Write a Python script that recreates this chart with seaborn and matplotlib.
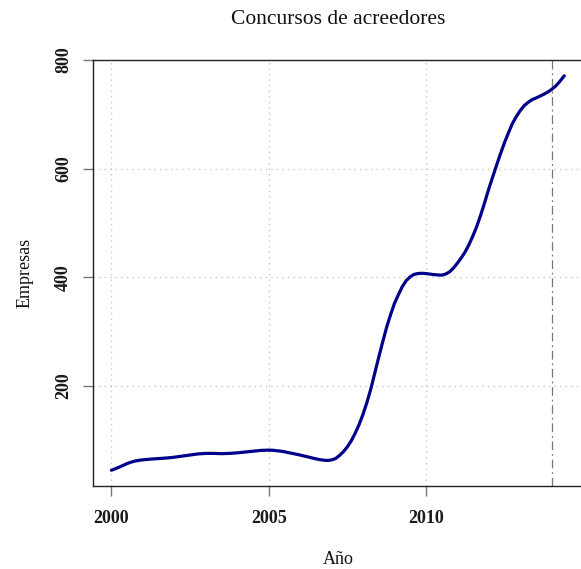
import matplotlib
matplotlib.use("Agg")
import matplotlib.pyplot as plt
import seaborn as sns
import pandas as pd

# Insolvency proceedings per year (smoothed series, read at regular steps)
anios = [
    2000.000, 2000.125, 2000.250, 2000.375, 2000.500, 2000.625, 2000.750, 2000.875,
    2001.000, 2001.250, 2001.500, 2001.750,
    2002.000, 2002.250, 2002.500, 2002.750, 2003.000, 2003.250, 2003.500, 2003.750,
    2004.000, 2004.250, 2004.500, 2004.750, 2005.000, 2005.125, 2005.250, 2005.375,
    2005.500, 2005.625, 2005.750, 2005.875, 2006.000, 2006.125, 2006.250, 2006.375,
    2006.500, 2006.625, 2006.750, 2006.875, 2007.000, 2007.125, 2007.250, 2007.375,
    2007.500, 2007.625, 2007.750, 2007.875, 2008.000, 2008.125, 2008.250, 2008.375,
    2008.500, 2008.625, 2008.750, 2008.875, 2009.000, 2009.125, 2009.250, 2009.375,
    2009.500, 2009.625, 2009.750, 2009.875, 2010.000, 2010.125, 2010.250, 2010.375,
    2010.500, 2010.625, 2010.750, 2010.875, 2011.000, 2011.125, 2011.250, 2011.375,
    2011.500, 2011.625, 2011.750, 2011.875, 2012.000, 2012.125, 2012.250, 2012.375,
    2012.500, 2012.625, 2012.750, 2012.875, 2013.000, 2013.125, 2013.250, 2013.375,
    2013.500, 2013.625, 2013.750, 2013.875, 2014.000, 2014.125, 2014.250, 2014.400,
]
empresas = [
    45, 47.8, 50.8, 54, 57.3, 59.9, 61.9, 63.2,
    64.2, 65.5, 66.5, 67.5,
    69, 71, 73, 75, 76, 76, 75.5, 76,
    77, 78.5, 80, 81.5, 82, 81.8, 81, 80.2,
    79, 77.5, 76, 74.5, 73, 71.2, 69.5, 67.7,
    66, 64.5, 63.5, 63, 64, 66.5, 72, 79,
    88, 99, 113, 129, 148, 170, 195, 224,
    253, 281, 308, 331, 352, 368, 383, 394,
    401, 405.5, 407, 407.5, 407, 406, 405, 404.5,
    404, 406, 410, 417, 426, 436, 447, 461,
    477, 495, 516, 539, 563, 585, 607, 628,
    648, 666, 683, 696, 707, 716, 722, 727,
    730, 733.5, 737, 741, 746, 752, 760, 771,
]

x_ticks = [2000, 2005, 2010]
y_ticks = [200, 400, 600, 800]
corte = 2014

titulo = "Concursos de acreedores"
etiqueta_x = "Año"
etiqueta_y = "Empresas"

sns.set_theme(style="white")
plt.rcParams["font.family"] = ["Liberation Serif", "DejaVu Serif"]

df = pd.DataFrame({"anio": anios, "empresas": empresas})

fig = plt.figure(figsize=(5.81, 5.69), dpi=100)
ax = fig.add_axes([93.3 / 581, 1 - 486 / 569, (582.4 - 93.3) / 581, 426 / 569])

# grid first so the curve sits on top
for xt in x_ticks:
    ax.axvline(xt, color="#c8c8c8", lw=1.0, ls=(0, (1, 3)), zorder=1)
for yt in y_ticks[:-1]:
    ax.axhline(yt, color="#c8c8c8", lw=1.0, ls=(0, (1, 3)), zorder=1)
ax.axvline(corte, color="#777777", lw=0.9, ls=(0, (7, 3, 1.5, 3)), zorder=1)

sns.lineplot(data=df, x="anio", y="empresas", ax=ax, color="#00008B",
             lw=2.3, zorder=3)

ax.set_xlim(1999.424, 2014.976)
ax.set_ylim(16, 800)
ax.set_xticks(x_ticks)
ax.set_yticks(y_ticks)
ax.set_xticklabels([str(v) for v in x_ticks])
ax.set_yticklabels([str(v) for v in y_ticks])

for side in ["left", "bottom", "top"]:
    ax.spines[side].set_visible(True)
    ax.spines[side].set_color("#222222")
    ax.spines[side].set_linewidth(1.0)
ax.spines["right"].set_visible(False)

ax.tick_params(axis="both", direction="out", length=7.2, width=1.0,
               color="#777777", labelcolor="#1a1a1a", labelsize=13,
               bottom=True, left=True)
ax.tick_params(axis="x", pad=10)
ax.tick_params(axis="y", pad=8, labelrotation=90)
for lab in ax.get_yticklabels():
    lab.set_va("center")
for lab in ax.get_xticklabels() + ax.get_yticklabels():
    lab.set_fontweight("bold")

ax.set_title(titulo, fontsize=15.5, color="#111111", pad=26)
ax.set_xlabel(etiqueta_x, fontsize=13, color="#111111")
ax.set_ylabel(etiqueta_y, fontsize=13, color="#111111")
ax.xaxis.set_label_coords(0.5, -0.1714)
ax.xaxis.label.set_va("center")
ax.yaxis.set_label_coords(-0.1396, 0.5)
ax.yaxis.label.set_va("center")

fig.savefig("out.png", dpi=100)
